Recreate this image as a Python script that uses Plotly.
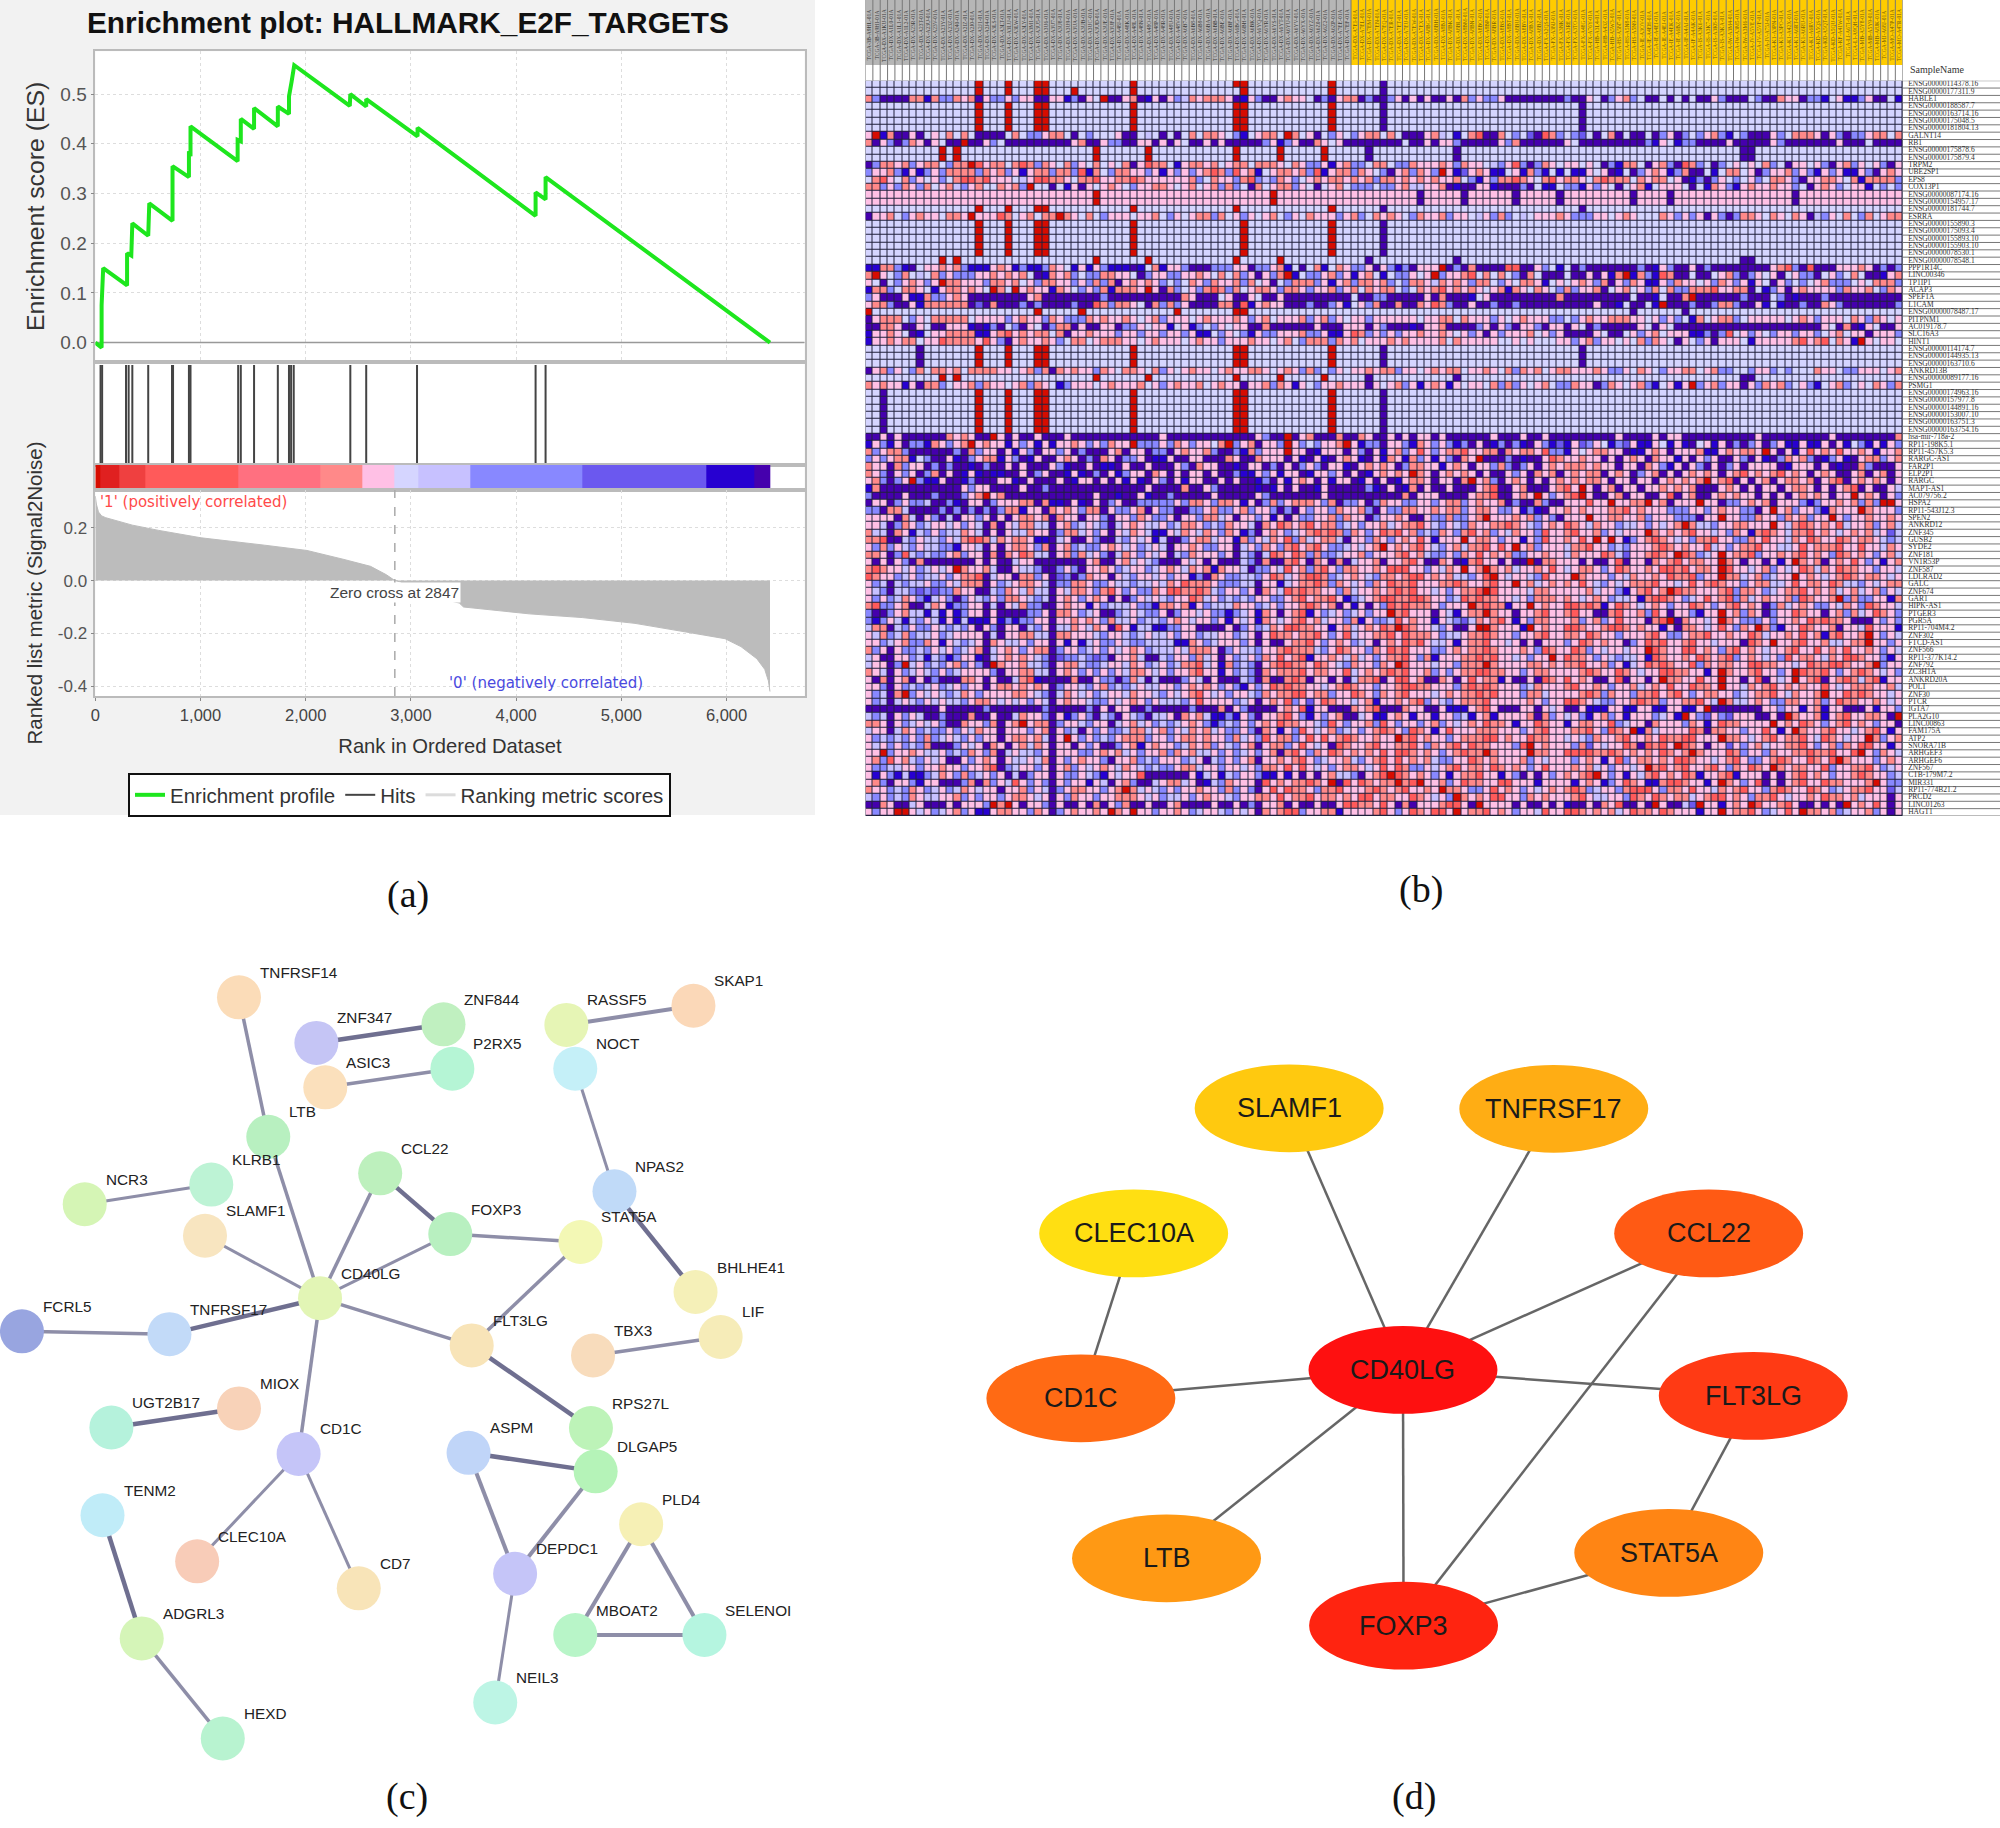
import plotly.graph_objects as go

W, H = 2000, 1828
def xd(a, b): return [a / W, b / W]
def yd(top, bot): return [1 - bot / H, 1 - top / H]

# ---------- panel (a) data ----------
es_rank = [0, 60, 60, 75, 302, 302, 342, 352, 503, 513, 734, 734, 890, 890, 905, 905, 1353, 1353, 1383, 1383,
           1509, 1509, 1735, 1735, 1841, 1841, 1866, 1891, 2419, 2424, 2575, 2575, 3063, 3063, 4185, 4185, 4280, 4280, 6413]
es_value = [0, -0.01, 0.075, 0.15, 0.115, 0.18, 0.175, 0.24, 0.215, 0.28, 0.245, 0.355, 0.333, 0.385, 0.375, 0.435, 0.365, 0.408, 0.405, 0.45,
            0.43, 0.472, 0.435, 0.475, 0.46, 0.495, 0.525, 0.558, 0.476, 0.50, 0.475, 0.49, 0.415, 0.432, 0.255, 0.302, 0.288, 0.333, 0.0]
hit_ranks = [50, 65, 292, 317, 352, 503, 729, 739, 890, 905, 1358, 1383, 1509, 1735, 1841, 1861, 1886, 2424, 2575, 3058, 4185, 4280]
metric_rank = [0, 10, 30, 60, 100, 352, 604, 1006, 1610, 2012, 2364, 2616, 2767, 2842, 2847, 2900, 3100, 3300, 3460, 3500,
               4125, 4628, 5130, 5634, 5986, 6137, 6288, 6363, 6398, 6413]
metric_value = [0.32, 0.29, 0.26, 0.245, 0.238, 0.21, 0.19, 0.162, 0.134, 0.114, 0.08, 0.054, 0.022, 0.002, 0, -0.005, -0.04, -0.07, -0.085, -0.1,
                -0.126, -0.14, -0.162, -0.196, -0.22, -0.25, -0.296, -0.336, -0.38, -0.42]
band_edges = [0, 50, 226, 478, 1358, 2138, 2540, 2842, 3068, 3561, 4628, 5805, 6262, 6413]
band_colors = ["#d60c00", "#e02020", "#ef4040", "#ff5a5a", "#ff7080", "#ff8989", "#ffc0e5",
               "#d5d5ff", "#c7c1ff", "#8888ff", "#6b58ef", "#2700d1", "#4500ad"]

# ---------- panel (b) data ----------
level_chars = "dbmpl.ksrR"
level_colors = ["#4500AD", "#2700D1", "#6B58EF", "#8888FF", "#C7C1FF", "#D5D5FF", "#FFC0E5", "#FF8989", "#FF5A5A", "#D60C00"]
N_COLS, N_ROWS = 141, 100
N_GRAY_COLS = 66

gene_labels = """ENSG00000114378.16 ENSG00000177311.9 HABLE1 ENSG00000188587.7 ENSG00000163714.16 ENSG00000175048.5 ENSG00000181804.13
GALNT14 RB1 ENSG00000175878.6 ENSG00000175879.4 TRPM2 UBE2SP1 EPS8 COX13P1 ENSG00000087174.16 ENSG00000154957.17 ENSG00000181744.7 ESRRA
ENSG00000155890.3 ENSG00000175093.4 ENSG00000155893.10 ENSG00000155903.10 ENSG00000078530.1 ENSG00000078548.1 PPP1R14C LINC00346 TP1IP1 ACAP3
SPEF1A L1CAM ENSG00000078487.17 PITPNM1 AC019178.7 SLC16A3 HINT1 ENSG00000114174.7 ENSG00000144935.13 ENSG00000163710.6 ANKRD13B ENSG00000089177.16
PSMG1 ENSG00000174963.16 ENSG00000157977.8 ENSG00000144891.16 ENSG00000153007.10 ENSG00000163751.3 ENSG00000163754.16 hsa-mir-718a-2
RP11-198K5.1 RP11-457K5.3 RARGC-AS1 FAR2P1 ELP2P1 RARGC MAPT-AS1 AC079756.2 HSPA2 RP11-543J12.3 SPEN2 ANKRD12 ZNF345 GUSB2 SYDE2 ZNF181 VN1R53P
ZNF587 LDLRAD2 GALC ZNF674 GAR1 HIPK-AS1 PTGER3 PGR5A RP11-704M4.2 ZNF302 FTCD-AS1 ZNF566 RP11-377K14.2 ZNF792 ZC3H1A ANKRD20A POLT ZNF30 PTCR
IGTA7 PLA2G10 LINC00863 FAM175A ATP2 SNORA71B ARHGEF3 ARHGEF6 ZNF567 CTB-179M7.2 MIR331 RP11-774B21.2 PRCD2 LINC01263 HAGT1""".split()

sample_codes = """3B-A9HL 3B-A9HI DX-A1KU DX-A1L0 DX-A1L1 DX-A1L2 DX-A23R DX-A23T DX-A23U DX-A23V
DX-A23Y DX-A23Z DX-A240 DX-A2IZ DX-A2J0 DX-A2J1 DX-A2J4 DX-A3LS DX-A3LT DX-A3LU
DX-A3LW DX-A3LY DX-A3M1 DX-A3U5 DX-A3U6 DX-A3U7 DX-A3U8 DX-A3U9 DX-A3UA DX-A3UB
DX-A3UC DX-A3UD DX-A3UE DX-A3UF DX-A48J DX-A48K DX-A48L DX-A48N DX-A48O DX-A48P
DX-A48R DX-A48U DX-A48V DX-A6B7 DX-A6B8 DX-A6B9 DX-A6BA DX-A6BB DX-A6BE DX-A6BF
DX-A6BG DX-A6BH DX-A6BK DX-A6YQ DX-A6YR DX-A6YS DX-A6YT DX-A6YU DX-A6YV DX-A6YX
DX-A6YZ DX-A6Z0 DX-A6Z2 DX-A6ZP DX-A7EE DX-A7EF DX-A7EI DX-A7EL DX-A7EM DX-A7EN
DX-A7EQ DX-A7ER DX-A7ET DX-A7EU DX-A7EW DX-A7EX DX-A8BG DX-A8BH DX-A8BJ DX-A8BK
DX-A8BL DX-A8BM DX-A8BN DX-A8BO DX-A8BP DX-A8BR DX-A8BS DX-A8BT DX-A8BU DX-A8BV
DX-A8BX DX-A8BZ FX-A2QS FX-A3NJ FX-A3NK FX-A3RE FX-A3TO FX-A48G FX-A76Y HB-A3L4
HB-A43Z HB-A5W3 HS-A5N7 HS-A5N8 HS-A5N9 IE-A3OV IE-A4EH IE-A4EI IE-A4EJ IE-A4EK
IE-A6BZ IF-A4AJ IF-A4AK IS-A3K6 IS-A3K7 IS-A3K8 IS-A3KA IW-A3M4 IW-A3M5 IW-A3M6
JV-A5VE JV-A5VF JV-A75J K1-A3PN K1-A3PO K1-A42X K1-A6RT K1-A6RU K1-A6RV KD-A5QS
KD-A5QT KD-A5QU KF-A41W LI-A67I LI-A9QH MB-A5Y8 MB-A5Y9 MB-A8JK MJ-A68J MO-A47P MO-A47R""".split()

# rows that are one background colour with a few full-colour columns
red_a = [15, 19, 23, 24, 36, 50, 51, 63]
dark_a = [70, 97]
red_b = [10, 12, 31, 38, 50, 56]
dark_b = [68, 80, 119, 120]
sparse_rows = {
    0: (".", {"R": red_a, "d": [70]}),
    1: (".", {"R": [15, 19, 23, 24, 28, 36, 51, 63], "d": [70]}),
    3: (".", {"R": red_a, "d": dark_a}), 4: (".", {"R": red_a, "d": dark_a}),
    5: (".", {"R": red_a, "d": dark_a}), 6: (".", {"R": red_a, "d": dark_a}),
    9: (".", {"R": red_b + [62], "d": dark_b}), 10: (".", {"R": red_b + [62], "d": dark_b}),
    15: ("k", {"R": [31, 55], "d": [75, 81, 88, 94, 104, 109, 126]}),
    16: ("k", {"R": [31, 55], "d": [75, 81, 88, 94, 104, 109, 126]}),
    17: (".", {"R": [15, 19, 23, 24, 36, 50, 63], "d": dark_a}),
    19: (".", {"R": [15, 19, 23, 24, 36, 51, 63], "d": [70]}), 20: (".", {"R": [15, 19, 23, 24, 36, 51, 63], "d": [70]}),
    21: (".", {"R": [15, 19, 23, 24, 36, 51, 63], "d": [70]}), 22: (".", {"R": [15, 19, 23, 24, 36, 51, 63], "d": [70]}),
    23: (".", {"R": [15, 19, 23, 24, 36, 51, 63], "d": [70]}),
    24: (".", {"R": red_b, "d": dark_b}),
    31: (".", {"R": [0, 23, 29, 42, 50, 51], "d": [104, 111]}),
    36: (".", {"R": red_a, "d": dark_a + [7]}), 37: (".", {"R": red_a, "d": dark_a + [7]}), 38: (".", {"R": red_a, "d": dark_a + [7]}),
    40: (".", {"R": red_b + [62], "d": dark_b}),
    42: (".", {"R": red_a, "d": [2, 70]}), 43: (".", {"R": red_a, "d": [2, 70]}), 44: (".", {"R": red_a, "d": [2, 70]}),
    45: (".", {"R": red_a, "d": [2, 70]}), 46: (".", {"R": red_a, "d": [2, 70]}), 47: (".", {"R": red_a, "d": [2, 70]}),
}

# rows read in two blocks of columns (0-75 | 77-140)
dense_rows = {
    2: "spddddssbsppsksdkppkpkkddkkbpdk.Rddksdbkdkplskssskdbkpddkskk.dpdkssdpddpkdkd|ddkdspkppkddddddddpddk.dpksp.dd.d.d.ddkpddd.pddskkdppb.kbbpkdd.b",
    7: "kRbsddkd.k.s.s.dddd.s.ppkss.d.p...kdd.l.d.d.s.ssk.pb.kss.Rs.kd.pk.pkss.s.ddd|sl.b.srdds.p.mdrsp.pm.d.sd.dd.dpkdp.pkspb.pdddkp.ssskdkpdppkss.sk",
    8: "sdkpdpskdk.ddRddkp.dddddddddksddkppddkkdkdk.ddkdkdddddpkbpkddsk.kdddddddd.dd|dkkpdddddkpsddddddk.dddddddddpbk.bppddddkdddddkpdddddddkddd.dddd",
    11: "dpsskspkss.pssRrkss.srspsk.spk.s.k.sdkrss.bkssks.kss.sssk.skppkbkspp.ss.ppsk|kskpskk.lpkrpdpsk.kk.k.dpbss.dkspdrsp.dp.k.k.sp.dkk.kpdkspk.kpdk",
    12: "pkkspbkbpkpsssspskspkbksspssprbs.psskkpkbkpkpksrsprksb.kssksprbksspsk.pdksps|pRkbmkskbb.kbspb.b.bbk.kdb.dpkskbpsdd.b.ss.kdpkkspkpbkpkbbkpdkskdk",
    13: ".srk.spk.kp.srrsrkkk.lkrrssk.ssrkkssrskkkkkksp.skkpsrplpskp.ksksskskspssksks|skks.pbkpssrsk.srkssk.srsss.skss.kdbpdpk.p.kp.sskpdkkssk.sbsssspssr",
    14: "sspkpskps.kslpks..skspR..d.bkdk.ksk.pkkssk.ks.kspsp.ds.ksspk.d.ks.ppp.ppks|ksdbddkkbdddpd.bb.ppbkpk.d.ksb.kkk.d.bskpbkskkskkp.dkskp.kkb.p.pkkk",
    18: "dkks.pkskk.sskRkkkrs.ks.ssRsk.s.pkkk.kks.pk.kssps.kpk.ks.pk.skkkpksp.sksk.ps|kspkk.lkpsp.l.kkkskpppkk.ksk...skpkpkdkpdpssk.sk.skdlpk.s.ps.kss",
    25: "bbsspbd.kkskspbbbkskbpbbpsk.bkbkpbbbdb.sbkkpdddpppkkdppksb.d.sb.skppkdkpbpdk|kRdpdsddddrrddkp.b.dpdddddddpdbkpddkdpddddddddksrpdrdddkkkskdpdpdpk",
    26: "sRk.ps.l.spkpppkksksks.dbsksp.ppsskk.dpkkppkksk.s.spkdkpsRb.ppkspkbks.b.ppk.s|Rpkksr.s.s.pds.ddd.ddkdkbsRbspbrsdd.dd.kspdpk.kd.kppd.kp.s.ddbksp",
    27: "k.d.pkskpkRsskkkpssks.kpsskkpkpspsdkskskp.p.skpskksps.kd.pssspkbkspssksp.pssk|lskskpss.pk.sskb.k.kskpsdkpskbbkpskk.kpskpkbk.dkp.p.ksppp.k.ssspbk",
    28: "bssp.ssk.bkssksk.Rs.Rkskkbsk.pkpsbssskRkdsp.kpsrsps.ksskpsskpkkspks.skss.p.sk|srksksk.ksbsk.sk.pspkksd.ks.kps.sppsssrkkssd.bpkdkskkkkpskks.pskspr",
    29: "pkdddkbbsppkskddddddddksddddddddpddddddddddskddd.kddk.ddkddddddddd.ddppddddddd|dsdddb.kdddddddddsddddddddd.ddb.ddsRddddddpddd.pdbdddpddddddddddpd",
    30: "ksspddkbssssssdmdsdddpdpddddpddrspssk.dspspkddddssdrbkskkdddpddpkb.kpsddsddsp|rspddkddpddpddddddddddkddb.dd.bRdddpddpsspddkb.bddpddskpdddddddpdpd",
    32: "dksss.pk.sssss.kkkkpkskkpskpppskskksk.kspkkk.kskkkskpks.kkkspkspk.kkpkkkkkk.k|kss.skkkpk.kskkkpp.pkskkssskk.kpkp.bs.kssp.kkkkk.kskpkkk.skpsk.kspp",
    33: "ddsskddk.ddkkkbdbpd.pdk.dpssdkddkkdppk.kkb.kbp.pk.kkddsddddddkdddkkkdkpdddbd|ksddddpkdkpdkkpdkkdk.dpdddddk.dk.ddddddddddddddddddddk.dsdbk.ddk.dpk",
    34: "bkksk.db.kkssssbbksrkskss.sdkkskkkpkkpkkpkkpkbb.pk.pbkppkkksppkbbkrspkpkpkkss|ksk.kpkdkpkkks.kpkddddk.dd.kpks.kkkbbpdpr.kpk.pkkpkkp.ks.kkdkkkp.k",
    35: "bkkskss.kkrsssskrkpdkskkskp.ss.kssskk.kskkk.kskkpkkkskk.ks.pssspsks.kkkskskkk.|ks.skkkkk..k.k...kkpkspkk.k.spsk.dk.pkdkkk.bkkkkksrksr.skbRk.kk.kk",
    39: "dkspk.ps.ssks.sssskk.kspsdskskkpsk.ssk.spk.kskk.kskkssk.kskpsp.pk.kksksspkk.k|skss.kksk.spsks.ksskkkskppk.sk.pkkss.kspp..pkkp.p...skk.ppkkk.ks.k",
    41: "skskkbkdssp.kkspskk.kspsk.bpkkk.kskkks.kpkskks.kskkdkkspskbk.pkkskkkdk.kspkb.|skbk.kk.spspk.ks.ppskkdpsk.kspb.kbkRpkspkkdkpsksp.kpb.ksp.k.skpsrk.",
    48: "ddkdkddddddskskddRkdkddkdddkddddddddddddkddddddddddddkpddRdksdddsddskddkdkdk|dkddddddkdddkddkdddddddddkddddkdkkddddddddddkdddddddddkddddddddsddddddd",
    49: "bkpbkdppbskpksRkskkbkpkbkbkkskpkpskkRpppkpskpkk.sRpksdkkpRkp.pkksRkbppdkkpbs|pkpbpdkdbpdpbdkpbmbkmpk.bpmkbbk.bkbd.kbkdpdpkdpkbbkbbkdkb.pbkbkpkbk",
    50: "spksspddddddpdspkkdkbkpdkkpkdpdddksdkkdppdkskkspddpbspkkkRkkdbkkkdkpdkbkspkrs|pkssrkkssdsksskrppbk.ksskkdbbkskdkkksbbksksskRkdkbkrkskrkkskbkksdkkr",
    51: "pkpkssb.pddkbdpkssbkpdbkddkskdpdskdppkdbbkddkkdddskddskkkdkbdkbdkskbdkbskbsp|bkpdskRdddpdbddkrskkskkdkdkskdskkbkdkpkddkpdkbdpskspdbpkbdksspksskdpks",
    52: "skkdspkkdpdpddbdpddkdkdddkpbddkdbbdkddkdddkpdskkddbdkkdpdkdpkpdkkbdkskskdpss|kbkskdkkpspdpkdkskssskskkdkkdskpbkdkpdkdpkdkkkkdbkkkdkdbddspdddkspdks",
    53: "skpdkpkdpsdkdbkbdbbddkdpkddbkbdpdkbpkkdskdkdkkdkddpbbkpkbkkdbkkpkdkdbkskskRs|dkskskdkddkpkdsksdkskssdkskdpksdkdkskskdksrksksrkskdkskddksdksdk",
    54: "kspdpkRpbbkddbpdddkkbdkdddkdbkkdkdkbkbdkpdkbkkddkdkddbpdkbkskdkbkkdbkdkdbkss|dkkdsRkspdkskdkdksksksskdkkdkkdksksksRksrdkdksdkssksdksrdkskskdk",
    55: "bsdddddddddddkpkkddddkddpdddddddddddddkddddsddkpdddddbdbkdkddbkdddddpbdkdbsd|ddkdddksrddksdddksrkRkdksdkkdkksksksdddkskdkdkkdksskdkdksrdkddk",
    56: "pddddkdddpdddpksRksddddddddddddkddbddkbddpdddddkdddddkpdddddddkddddddddddsdk|kddddkssrddkskRkpksrRkddksdkkddkrdksddkskskkdkdkdkskskdkkRkskdkp",
    57: "dkkdpkpplddpbdkkdpkkkssdsbbdkbdkdpkddpppppkpsskpsskbkdpspkssskpsdppkdpskkppk|pksspkskksdpddspddkkkrkkRkkssRksdkkkRkkdppksksdkkkpbpkkskspspRRkskpkpk",
    58: "ppdsslddddpdpdpdpdpssbkkdskskpssdkppksdkppddppksppkspkkpdpdkpkkpskkspdkppssk|sksspksskppkbpbdkkskskkkssrkskkkpppkkpkskkppdkRkspkkpbskkkRskkkpdkbdR",
    59: "kkkkdsldkpdldkkpkdkdkssksdskkdkkpdkkpskppkdkkpsslkdkkpkbkdkppkkspskkdpkkskdd|ppsppksRkkkskspkpdkkkRkksskkspkkkpppdkkRkkppskkpskspkkRkpkkskkskkkkskpp",
}

# rows read in three blocks of columns (0-46 | 47-93 | 95-140)
fine_rows = {
    60: "kkldp skplk klkpk ldsdk lssll dkspl klpdl kskll kplss kp|lpskk ldskr sksrk ssplk pkksl kssrk lpklp skkss rsklp ks|rskls kkpll kpklk sRsll pkkss kkkRk lsrsk skrlk kspks l",
    61: "sllds kblpk pllsk ldkdk llskk dpssl kpkdk lsklb bklsk ls|kpskb pdksk plksr srsps kpkrs rkspl pskps rkspk lskkp rk|srkks pklkk kRsks ksrkk lkpsk bsrsk lssrk sklks kslkm l",
    62: "ssrdd lpkll pklsr rslsk sskbb dlkdd kpddl pklkb lddpk ss|lkkbs pklsk rpslk ssldk kpskp kskrk bkkkR ksskp kkbkp rk|skrkR kRkbp ksrsk lkpss rkkpp skrkk lskrs kkrsk ssklp l",
    63: "kpspk lpkll ppbkk ldkdk sskps dkspl ppksk lkplk ldkks kp|pkkdl kpskp srksr kpplk lksRk sksrk lpksl ssrkr kRksp kk|lssrk kplpk kksrs kskkr lkpks srkkl lkrks ssrkk rkkls k",
    64: "sskdp rlplp pkspk kdsds krsll dksps lkpdl skpkl kdlps kk|kpkdl pdlrs krsps pplkk spkkk srksl ppkps krksk sppkk sk|lskkk rslmk ksrsk Rrspl kRkss rpkks ksrks kprsk skpks l",
    65: "kdkdk pdsdd ddddd kdkdd lkkdd ddddd ksddk slklp dddkl kd|kdddl pdsdd srkds kdsdl kksdk ksrkd dskdb srkkd kddRd ss|kkdkd dkrdk kdsks rkssk kRskd kkdkb kRsks dkskr kpkbk s",
    66: "srskk lkplk lkRsk ksldd kllpd dpkpd kkskp lkkpl kskls ks|bskkl dppkl rksps rkpss kkskr rrkkp klskR ksRsk slkks kr|lkssk pkrsk kskrr srkss kRrkk lkspk lkrsl skrss kkpkk l",
    67: "rskkp lkpll kpkss rdlkk dsspk dmpdp skkdk lpkkl kpkkb pd|skppl lpkrs lksrr splks klpss ksrrk sksll pkrRk lkklp rk|kRskk kpkls kkskr ssrpk kRssl ksplk kRksk lksrs ksskl k",
    68: "kpldl pllkp pklss sdkpl ksskl dppss kppkl lpllk lskrs ss|kpppl ldkkb lkssr spskl kpskr ssrkk kssrs kksrk kRksl ks|skrkl pklks ssrkk lkrks rskkp kssll krkss krsll pklks s",
    69: "klpdl lpmpm ppskk ddlps klsll dklss kpsrk pkpps krrss rs|lpkkp kdskl rsrss kkpsl kksks rsrkk lkpks srRrk kkkls sk|kkksl kkpbk srksR rsskk ksrps skplk ssrks kslks lkspk l",
    70: "kpkpl skpbl kpdpk lpkps sklpl dkskp kskdk dpklk lpkkr sl|kplpl pkkpp ksrks srkbp lksrr ssrrs kkplr srssk klkps ss|sklks kpllk bsrrs kplkr ksrps lkskk sprsk ksRps ppkkb s",
    71: "srppk sddls kbppk kdldk lsppd dkskk bkpll lkppb ssksb kp|lllsk kplkp kksrs ksdkb kdkpr srsss kpkkk Rsrss bkkRk sk|rrsrs bkrsk lkskp kkrsk pksrk skdps lkskp pklsk prskk l",
    72: "pddpk sllbl bkbpk kdkdd ddppk dsskp lkddp lklpp kdpkk lk|ppbpl kbskd ksrbk plkpl kpkkR srkkk dklbk ssRsk kdkks rk|srkkd dsrkk sprkd kkpbk kRksp skdpk krskk dksps lkrsk p",
    73: "pbpkl blpkl bkblb bbkbp bppkk dkksk skpsl lkpll pkskl kk|pkbkl kbskl ksrks lkkps bkppl rkskk bklpm lsksr kbkps sk|kspks pkrkk kdsrR dskkl kRskp ppkpk kskrs rsskd ddkpk p",
    74: "lssdl pkppk lplpk dkpdk kdlpk dllsk lskdr kbllb bppkk dd|ddkdp kplsk rrssk kbksl kskrs Rrskk lpkdd kRRsk kkbRk sk|rrskk srrsk skkbk dsskl krkps kRspb kkrsk ksdkk lrkkk b",
    75: "klspl spllk plkkk kdldk kssll dsskk klpkk lplkl lkpkk pl|lkkpl kdkrs skssr kpkrl kkssr krsss kpllk ssrsk kpkks rk|sskrs kkpkk ksrkp pkssr kkskk rslkk skrks bsrkk sRkpk l",
    76: "kkplk sppsk bklpl kdskl lkpkk dkbkb lkppk lppll llbbs kp|lkkkp kdkdd kssrk pkskp lkdks krsrk llkbk ssrkk lkdkd kk|pkrsk skkdp krsrk ksrkk lkkkd rskRk ksrkk sllks sRkkp k",
    77: "spkdk pplpk lkplk sdlks kpkss dpkkp lkpkl kskpl llkls ss|kdpkl lpkks rsssl pkrsk kpskr srkkk ppksk ssrsk kkskp rs|krspk lkklk kRrsk krrks kpsrk sklkk srkkr kskrk kskpk l",
    78: "lkddk kplbl pbpkk bdlks ksklp dmppl pmpdk ksldd lpkkp sl|kdkpl kpskr ksrbk kskls lkpks srkps bkkks srsrk klkpk kR|rsskp klpll kbrsk kskrs ksrpk sklkp rkssk lskrr skkpb k",
    79: "lkkdp Rlkpl pkspk pdRsk ksllp dkssl pplkk lskpl kplss rl|kbspl pdksr rsskr sklps kkpsk Rrkkk lkkps ssRsk kkkss ks|ssrkk spkbl krsrs kkrps ksskk rrssk klkrs srrsk ksRpk k",
    80: "skldk plklp kplkk kkpdk kssll dkskp kpkpk lsskl kpkks rk|kbkpl pdsks ssrks skkrl ksksr srkks pkpks srrss kkpks sk|kksrs kkrsk lkkrr sskkb kRskk srkkp kRrss rkpks rsklk p",
    81: "kdsdk sdkdp dddss kdkdd lsrbd dddsd dkppd psldl dddpk ld|kdddl pdsdd srsdk kdkdl ssrdk rrksd dskdk rkssb kddkd rs|rkskd dkrdk kdkRs skkrk kRkkd krdkl kRksr dksrs lsrbk k",
    82: "kkpdk plplk plkpk kdkss ksksk dpkkl pkspl plkll kkpks ks|kpkpb kpkrs rsskk lksrs kkpkk srrss kkkps rsrsk kkpls kk|srkks kpkks lkskr kkrss kRkkl sksrk skskk rklks sskks l",
    83: "kplds Rpklk lplsk pkkkk ssklp dlskl kplkk lskkl pklks rk|lkpkk lpsks srrks spkkr skpsk srkkk lksks srsrk kkpss lk|kksrs pskkp ssrks rkpks skkpl kssrk lskks Rkkrs rskkl k",
    84: "kpldl klpkl kllpk ssklk lkpkl dkskk lppkl kskpk lllpk rk|kkkpl kdksk rpkmk rskkl ksbkk sksrp klpks ssrkk kkksk pk|rrskl ppkks rsspk kssrk lRsll kskpp sskks pkrss kkskl k",
    85: "ddddd ddddd kdddd dpddd ddddp ddddd pdkdk kddpd ddddp ddk|dsdkp ddddk skrbk kddds ksrdd dskkd dkbbb ksrkd ddkkd kl|ddkbb bkkbb kkbbk kbbkR ddddd ddkkp kkbks bkkdd dkbkk p",
    86: "lpldk pkldd pddds ddkdd lskkp dkbpk pdlpd klpdl lkdsk sl|bbpbk pdkks rkpbk pksdd lkbbk skbkk bkkpl bksbk kkksd sp|lkpbk spkbk kkplk bRkpm kpmkk kddkd Rskks bksrk ksskd R",
    87: "sskdk plklk pddsk kpsdk sRkss dpkkl pkkdl kslkp lplks kp|bplpk pkskr sskkl prkpk ksprk pkkpk spklk skrss kbkkr sk|bkssk krplk kdskk kpskb krssk kkkRk skrsk pksrk skpkk d",
    88: "lkkdl skplp pkpkl skkdk kkpks dkpld kpkpp lsslk spkls ks|lkppk pdskb kprkl ksplk pksrs kprsk bkrkk ksssk kkpks rk|kssrk prskR bslkk kkrsd sskkp kkrkb kRskk srkkl ksrkb k",
    89: "kplpl pkpsp lklpk pkkdk ssksl dkRkp kplpk ssspk kpkss ks|kkpsl kprks spkrk rksrs kkskk Rsrks kkpks ssrrk skkrs sk|lklps kksrk kskrs srrkk kRssk lksrk ssrkl rsklk kRspk s",
    90: "klkpk plpsd ddpkl kdskd kslsk dkkdk pkddp ksbks kkpls ks|pklpk sdkss pkrkl kdrsk ksrkk ssrkp sksrk rsskk kprRk sk|kpsmk lkkrs drsrk Rrskd kkmkp kslkk ssrkp kspsk rrkkb k",
    91: "kkRpk kskll kplps kpsdl kllpk dkkkp pksks lkpkk spsks ll|kpkpl kpksd srkps krsks kskrk rrsks kpksr ssRsk kkkRs sk|rrrrs srsks kskrs ksRsk kkrsp kkpsk kssrs srkkr Rkpsk l",
    92: "ksprk slpkl kddkp kskdk llkls dkpks kkpdk ksplp kkkpl kd|lpkpk sdkks ksrkp lkksl pksrk rksks lppkk rsksk kkspk lk|kpksk bkrpk ssksk rrskk lksrk ppksr skkrs krRsk kkpks k",
    93: "kppll kkpkk skkpk ksrdp lkkpk dkspk lkskl sklpl ppkss lk|kpkkl kpssk rkrkl kpkss klkrk rsppk lksrk sskrs kskpk rk|ksksl kpkkl kRsrk srkks rkpsk rskRs ksskk rpkks srkpl k",
    94: "kbkpb lbbpl skpsp lkpkd ldpkk dkppk lpbkl kkrdd ddddk bl|kblpk kpbbk bkdkd ksllp dksrR rsksk pkbks srkkb kpdkd kp|sksrR kpkbk lsrks krsbk ksrbk kkdkd ksrks kpkks rskkp l",
    95: "kspdk kpbkk dddps dspkl rkpkp dkpkk bkldk spddl ksslk db|lpskk kdrks kssrs kRdrk rskss RsrRk kspkr sskkr rkkkb kk|kbksk bpkrs kbbsr rskkb kRskp krdkd ksrkk rsskk ksRkp p",
    96: "skkpl pskpl kplsk lkkdk kspkl dpkss kkpks Rslkl pkpkk sk|kpspk pdkrk rsskp ssrkk ksrsk srkks kRssk ppkrk skpkl ks|srspl kkpsr rrkps skrkk lsksr kkpsr skkrs kplks srkkm l",
    97: "lpkpl pskll kkspk pkkpk ssklk dkpsk kpkks ssklk pllkp ks|kklpk ksskr kssrk ssksk rrkss kkrsk lkpRs kskrr kkpsk sk|ksrkl lkkpr skrsk sslks rrksk pssrk lkksk rssks lkkkd k",
    98: "ddskd dlkdd dkdkk kpRsR kdkkp dkddk dsdkp sddkd dksdd dd|kddkd pdkks dkddk ddkrr sskrk dsdkk ksrrk dRkkk kdkdd kd|bddkd skrdd kdRkd dlmRk kbksk Rrkks rkddk dkdRk skrkd k",
    99: "kpkkR Rklkp lkspk bbkss kkpsk dpksk kskRs kRkkp kkskp lk|klpkl kdsks rrpkk ssbkk kksrk pkrsk rrkRk ssrks kpkkl rk|rrsks kslkr sskrs kkkbk kRkss rkplk rkRss ksplk kspkd k",
}
# the columns that the block reads above do not cover
gap_col_76, gap_col_94 = "k", "k"

def decode_matrix():
    m = []
    for r in range(N_ROWS):
        if r in sparse_rows:
            base, sets = sparse_rows[r]
            row = [base] * N_COLS
            for ch, cols in sets.items():
                for c in cols:
                    row[c] = ch
        elif r in dense_rows:
            left, right = dense_rows[r].split("|")
            row = list(left.ljust(76, "l")[:76] + gap_col_76 + right.ljust(64, "l")[:64])
        else:
            a, b, c = fine_rows[r].replace(" ", "").split("|")
            row = list(a.ljust(47, "l")[:47] + b.ljust(47, "l")[:47] + gap_col_94 + c.ljust(46, "l")[:46])
        m.append([level_chars.index(c) for c in row])
    return m
heat_z = decode_matrix()

# ---------- panel (c) data (node name, x, y, colour) ----------
c_nodes = [("TNFRSF14", 457, 102, "#fbdcb8"), ("ZNF347", 605, 183, "#c5c5f5"), ("ZNF844", 848, 150, "#c0f0c0"),
           ("P2RX5", 865, 229, "#b5f5d5"), ("ASIC3", 622, 262, "#fbe0bc"), ("RASSF5", 1083, 151, "#e6f5b5"),
           ("SKAP1", 1326, 117, "#fbd8b8"), ("NOCT", 1100, 229, "#c5f0f8"), ("LTB", 513, 350, "#b8f0c0"),
           ("KLRB1", 404, 435, "#bdf3d5"), ("NCR3", 162, 470, "#d5f5b5"), ("CCL22", 727, 415, "#bdf0bd"),
           ("FOXP3", 861, 523, "#b8f0c0"), ("SLAMF1", 392, 526, "#f8e5c0"), ("NPAS2", 1175, 447, "#c0daf8"),
           ("STAT5A", 1110, 537, "#f3f8b5"), ("BHLHE41", 1330, 626, "#f5f0b8"), ("CD40LG", 612, 637, "#e2f5b5"),
           ("FCRL5", 42, 696, "#98a5e0"), ("TNFRSF17", 324, 701, "#c2daf8"), ("FLT3LG", 902, 721, "#f8e4b8"),
           ("LIF", 1378, 706, "#f6ecb8"), ("TBX3", 1134, 739, "#f8dcbc"), ("MIOX", 457, 833, "#f8d2b8"),
           ("UGT2B17", 213, 867, "#b5f2dc"), ("RPS27L", 1130, 868, "#bdf3b8"), ("CD1C", 571, 914, "#c5c5f8"),
           ("ASPM", 896, 912, "#c0d5f8"), ("DLGAP5", 1139, 945, "#b5f3b8"), ("PLD4", 1226, 1039, "#f6f0b5"),
           ("TENM2", 196, 1023, "#c0ecf8"), ("CLEC10A", 377, 1105, "#f8ccb8"), ("CD7", 686, 1153, "#f8e4b8"),
           ("DEPDC1", 985, 1127, "#c5c5f8"), ("MBOAT2", 1100, 1236, "#b8f5c8"), ("SELENOI", 1347, 1236, "#b5f5e0"),
           ("ADGRL3", 271, 1242, "#d5f5b8"), ("NEIL3", 947, 1356, "#bdf5e5"), ("HEXD", 426, 1420, "#b8f3d0")]
c_edges = [("TNFRSF14", "LTB", 3), ("ZNF347", "ZNF844", 4), ("ASIC3", "P2RX5", 3), ("RASSF5", "SKAP1", 3.5),
           ("NOCT", "NPAS2", 2.5), ("LTB", "CD40LG", 3), ("KLRB1", "NCR3", 2.5), ("CD40LG", "SLAMF1", 2.5),
           ("CD40LG", "CCL22", 3), ("CD40LG", "FOXP3", 2.5), ("CCL22", "FOXP3", 4), ("FOXP3", "STAT5A", 3),
           ("STAT5A", "FLT3LG", 3), ("NPAS2", "BHLHE41", 4), ("CD40LG", "TNFRSF17", 4), ("TNFRSF17", "FCRL5", 3),
           ("CD40LG", "FLT3LG", 3), ("CD40LG", "CD1C", 3), ("FLT3LG", "RPS27L", 4), ("TBX3", "LIF", 3),
           ("UGT2B17", "MIOX", 4), ("CD1C", "CLEC10A", 2.5), ("CD1C", "CD7", 2.5), ("ASPM", "DLGAP5", 4),
           ("ASPM", "DEPDC1", 3.5), ("DLGAP5", "DEPDC1", 3.5), ("DEPDC1", "NEIL3", 2.5), ("PLD4", "MBOAT2", 3.5),
           ("PLD4", "SELENOI", 3.5), ("MBOAT2", "SELENOI", 3.5), ("TENM2", "ADGRL3", 4), ("ADGRL3", "HEXD", 3)]

# ---------- panel (d) data ----------
d_nodes = [("SLAMF1", 561, 137, "#ffc90f"), ("TNFRSF17", 1012, 138, "#ffad14"), ("CLEC10A", 296, 388, "#ffdf12"),
           ("CCL22", 1276, 388, "#ff5a14"), ("CD40LG", 755, 662, "#fe1010"), ("CD1C", 206, 719, "#ff6a14"),
           ("FLT3LG", 1352, 714, "#ff3a14"), ("LTB", 352, 1040, "#ff9914"), ("STAT5A", 1208, 1029, "#ff8514"),
           ("FOXP3", 756, 1175, "#ff2410")]
d_edges = [("SLAMF1", "CD40LG"), ("TNFRSF17", "CD40LG"), ("CCL22", "CD40LG"), ("CCL22", "FOXP3"), ("CLEC10A", "CD1C"),
           ("CD1C", "CD40LG"), ("CD40LG", "FLT3LG"), ("CD40LG", "LTB"), ("CD40LG", "FOXP3"), ("FLT3LG", "STAT5A"), ("STAT5A", "FOXP3")]
d_rx, d_ry = 161, 88

SANS = "Liberation Sans"
SERIF = "Liberation Serif"
DEJAVU = "DejaVu Sans"
fig = go.Figure()
annotations, shapes = [], []

# ---------- panel (a) ----------
PA = (95.3, 804.6)
RANK_MAX = 6742
def paper_rect(x0, y0, x1, y1, color):
    shapes.append(dict(type="rect", xref="paper", yref="paper", x0=x0 / W, x1=x1 / W, y0=1 - y0 / H, y1=1 - y1 / H,
                       fillcolor=color, line_width=0, layer="below"))
paper_rect(0, 0, 815, 815, "#f2f2f2")
paper_rect(PA[0], 51.3, PA[1], 696, "#ffffff")

fig.add_trace(go.Scatter(x=[0, RANK_MAX], y=[0, 0], mode="lines", line=dict(color="#999999", width=1.5),
                         xaxis="x", yaxis="y", showlegend=False, hoverinfo="skip"))
fig.add_trace(go.Scatter(x=es_rank, y=es_value, mode="lines", name="Enrichment profile",
                         line=dict(color="#1ee61e", width=4), xaxis="x", yaxis="y"))
hx, hy = [], []
for r in hit_ranks:
    hx += [r, r, None]; hy += [0.015, 0.965, None]
fig.add_trace(go.Scatter(x=hx, y=hy, mode="lines", name="Hits", line=dict(color="#444444", width=2),
                         xaxis="x2", yaxis="y2"))
band_z = [[i for i in range(len(band_colors))]]
n = len(band_colors)
band_scale = []
for i, c in enumerate(band_colors):
    band_scale += [[i / n, c], [(i + 1) / n, c]]
fig.add_trace(go.Heatmap(x=band_edges, y=[0, 1], z=band_z, zmin=-0.5, zmax=n - 0.5, colorscale=band_scale, showscale=False,
                         xaxis="x3", yaxis="y3", hoverinfo="skip"))
fig.add_trace(go.Scatter(x=metric_rank, y=metric_value, mode="lines", fill="tozeroy", showlegend=False,
                         fillcolor="#bcbcbc", line=dict(color="#bcbcbc", width=1), xaxis="x4", yaxis="y4"))
fig.add_trace(go.Scatter(x=[None], y=[None], mode="lines", name="Ranking metric scores",
                         line=dict(color="#dcdcdc", width=3), xaxis="x4", yaxis="y4"))
fig.add_trace(go.Scatter(x=[2847, 2847], y=[-0.437, 0.343], mode="lines", line=dict(color="#aaaaaa", width=1.5, dash="dash"),
                         xaxis="x4", yaxis="y4", showlegend=False, hoverinfo="skip"))

frame = dict(showline=True, linecolor="#bbbbbb", linewidth=1.5, mirror=True, zeroline=False)
hidden_tick = dict(showticklabels=False, ticks="", showgrid=False)
grid = dict(showgrid=True, gridcolor="#dddddd", griddash="dot", gridwidth=1)
layout_axes = dict(
    xaxis=dict(domain=xd(*PA), range=[0, RANK_MAX], anchor="y", tickvals=[1000, 2000, 3000, 4000, 5000, 6000],
               showticklabels=False, ticks="", **grid, **frame),
    yaxis=dict(domain=yd(51.3, 361.5), range=[-0.038, 0.586], anchor="x", tickvals=[0, 0.1, 0.2, 0.3, 0.4, 0.5], tickformat=".1f",
               ticks="outside", ticklen=3, tickcolor="#888888", tickfont=dict(family=SANS, size=19, color="#555555"),
               title=dict(text="Enrichment score (ES)", font=dict(family=SANS, size=24.8, color="#333333"), standoff=9), **grid, **frame),
    xaxis2=dict(domain=xd(*PA), range=[0, RANK_MAX], anchor="y2", **hidden_tick, **frame),
    yaxis2=dict(domain=yd(361.5, 464.7), range=[0, 1], anchor="x2", **hidden_tick, **frame),
    xaxis3=dict(domain=xd(*PA), range=[0, RANK_MAX], anchor="y3", **hidden_tick, **frame),
    yaxis3=dict(domain=yd(464.7, 490), range=[0, 1], anchor="x3", **hidden_tick, **frame),
    xaxis4=dict(domain=xd(*PA), range=[0, RANK_MAX], anchor="y4", tickvals=[0, 1000, 2000, 3000, 4000, 5000, 6000], tickformat=",d",
                ticks="outside", ticklen=3, tickcolor="#888888", tickfont=dict(family=SANS, size=16.5, color="#444444"),
                title=dict(text="Rank in Ordered Dataset", font=dict(family=SANS, size=20.2, color="#333333"), standoff=16), **grid, **frame),
    yaxis4=dict(domain=yd(490, 696), range=[-0.437, 0.343], anchor="x4", tickvals=[-0.4, -0.2, 0, 0.2],
                ticktext=["-0.4", "-0.2", "0.0", "0.2"], ticks="outside", ticklen=3, tickcolor="#888888",
                tickfont=dict(family=SANS, size=17, color="#555555"),
                title=dict(text="Ranked list metric (Signal2Noise)", font=dict(family=SANS, size=20.5, color="#333333"), standoff=10), **grid, **frame),
)
def ann(text, x, y, xref="paper", yref="paper", size=14, color="#222222", family=SANS, **kw):
    kw.setdefault("xanchor", "center")
    kw.setdefault("yanchor", "middle")
    annotations.append(dict(text=text, x=x, y=y, xref=xref, yref=yref, showarrow=False,
                            font=dict(family=family, size=size, color=color), **kw))
ann("<b>Enrichment plot: HALLMARK_E2F_TARGETS</b>", 408 / W, 1 - 22 / H, size=29.8, color="#111111")
ann("'1' (positively correlated)", 30, 0.298, "x4", "y4", size=15, color="#ff4a4a", family=DEJAVU, xanchor="left")
ann("'0' (negatively correlated)", 3340, -0.387, "x4", "y4", size=15, color="#4a4ae0", family=DEJAVU, xanchor="left")
ann("Zero cross at 2847", 2845, -0.045, "x4", "y4", size=15.5, color="#444444", bgcolor="#ffffff")

# ---------- panel (b) ----------
HX = (865.5, 1902.7)
HY = (80.7, 816)
paper_rect(HX[0], HY[0], HX[1], HY[1], "#20203c")
level_scale = []
nl = len(level_colors)
for i, c in enumerate(level_colors):
    level_scale += [[i / nl, c], [(i + 1) / nl, c]]
fig.add_trace(go.Heatmap(z=heat_z, x=list(range(N_COLS)), y=list(range(N_ROWS)), zmin=-0.5, zmax=nl - 0.5, colorscale=level_scale,
                         showscale=False, xgap=1, ygap=1, xaxis="x6", yaxis="y6", hoverinfo="skip"))
header_z = [[0 if c < N_GRAY_COLS else 1 for c in range(N_COLS)]]
fig.add_trace(go.Heatmap(z=header_z, x=list(range(N_COLS)), y=[0, 65], zmin=0, zmax=1,
                         colorscale=[[0, "#b6b6b6"], [1, "#ffcc00"]], showscale=False, xaxis="x5", yaxis="y5", hoverinfo="skip"))
vx, vy = [], []
for c in range(N_COLS + 1):
    vx += [c - 0.5, c - 0.5, None]; vy += [0, 81, None]
fig.add_trace(go.Scatter(x=vx, y=vy, mode="lines", line=dict(color="#777777", width=1), xaxis="x5", yaxis="y5",
                         showlegend=False, hoverinfo="skip"))
for c, code in enumerate(sample_codes[:N_COLS]):
    ann(f"TCGA-{code}-01A", c, 35, "x5", "y5", size=5.5, family=SERIF, textangle=-90,
        color="#3a3a3a" if c < N_GRAY_COLS else "#7a6000")
lx, ly = [], []
for r in range(N_ROWS + 1):
    lx += [0, 98, None]; ly += [r - 0.5, r - 0.5, None]
fig.add_trace(go.Scatter(x=lx, y=ly, mode="lines", line=dict(color="#777777", width=1), xaxis="x7", yaxis="y7",
                         showlegend=False, hoverinfo="skip"))
fig.add_trace(go.Scatter(x=[5.5] * N_ROWS, y=list(range(N_ROWS)), text=gene_labels[:N_ROWS], mode="text", textposition="middle right",
                         textfont=dict(family=SERIF, size=7.5, color="#333333"), xaxis="x7", yaxis="y7",
                         showlegend=False, hoverinfo="skip"))
ann("SampleName", 1908 / W, 1 - 70 / H, size=10, family=SERIF, color="#333333", xanchor="left")
plain = dict(visible=False)
layout_axes.update(
    xaxis5=dict(domain=xd(*HX), range=[-0.5, N_COLS - 0.5], anchor="y5", **plain),
    yaxis5=dict(domain=yd(0, HY[0]), range=[HY[0], 0], anchor="x5", **plain),
    xaxis6=dict(domain=xd(*HX), range=[-0.5, N_COLS - 0.5], anchor="y6", **plain),
    yaxis6=dict(domain=yd(*HY), range=[N_ROWS - 0.5, -0.5], anchor="x6", **plain),
    xaxis7=dict(domain=xd(HX[1], 2000), range=[0, 2000 - HX[1]], anchor="y7", **plain),
    yaxis7=dict(domain=yd(*HY), range=[N_ROWS - 0.5, -0.5], anchor="x7", **plain),
)

# ---------- panel (c) ----------
cpos = {nm: (x, y) for nm, x, y, _ in c_nodes}
for a, b, w in c_edges:
    col = "#6f6f90" if w >= 4 else "#8e8ea8"
    fig.add_trace(go.Scatter(x=[cpos[a][0], cpos[b][0]], y=[cpos[a][1], cpos[b][1]], mode="lines", line=dict(color=col, width=w + 0.5),
                             xaxis="x8", yaxis="y8", showlegend=False, hoverinfo="skip"))
fig.add_trace(go.Scatter(x=[n_[1] for n_ in c_nodes], y=[n_[2] for n_ in c_nodes], mode="markers",
                         marker=dict(size=44, color=[n_[3] for n_ in c_nodes], line_width=0), xaxis="x8", yaxis="y8",
                         showlegend=False, hoverinfo="skip"))
for nm, x, y, _ in c_nodes:
    ann(nm, x, y, "x8", "y8", size=15.3, color="#222222", xanchor="left", yanchor="middle", xshift=19, yshift=25)
layout_axes.update(
    xaxis8=dict(domain=xd(0, 820), range=[0, 1568], anchor="y8", **plain),
    yaxis8=dict(domain=yd(940, 1820), range=[1565, 0], anchor="x8", **plain),
)

# ---------- panel (d) ----------
dpos = {nm: (x, y) for nm, x, y, _ in d_nodes}
for a, b in d_edges:
    fig.add_trace(go.Scatter(x=[dpos[a][0], dpos[b][0]], y=[dpos[a][1], dpos[b][1]], mode="lines", line=dict(color="#666666", width=2.5),
                             xaxis="x9", yaxis="y9", showlegend=False, hoverinfo="skip"))
for nm, x, y, col in d_nodes:
    shapes.append(dict(type="circle", xref="x9", yref="y9", x0=x - d_rx, x1=x + d_rx, y0=y - d_ry, y1=y + d_ry,
                       fillcolor=col, line_width=0, layer="above"))
    ann(nm, x, y, "x9", "y9", size=27, color="#1a1a1a")
layout_axes.update(
    xaxis9=dict(domain=xd(960, 1880), range=[0, 1568], anchor="y9", **plain),
    yaxis9=dict(domain=yd(1040, 1820), range=[1565, 0], anchor="x9", **plain),
)

# ---------- panel letters ----------
for txt, x, y in [("(a)", 408, 895), ("(b)", 1421, 889), ("(c)", 407, 1796), ("(d)", 1414, 1796)]:
    ann(txt, x / W, 1 - y / H, size=38, family=SERIF, color="#111111")

fig.update_layout(width=W, height=H, margin=dict(l=0, r=0, t=0, b=0, autoexpand=False), paper_bgcolor="#ffffff", plot_bgcolor="rgba(0,0,0,0)",
                  annotations=annotations, shapes=shapes, showlegend=True,
                  legend=dict(orientation="h", x=128 / W, y=1 - 773 / H, xanchor="left", yanchor="top", bgcolor="#ffffff",
                              bordercolor="#111111", borderwidth=2, font=dict(family=SANS, size=20.5, color="#333333"),
                              itemwidth=30, traceorder="normal"),
                  **layout_axes)
fig.write_html("out.html", config={"displayModeBar": False},
               post_script="document.body.style.margin='0';document.documentElement.style.overflow='hidden';")
